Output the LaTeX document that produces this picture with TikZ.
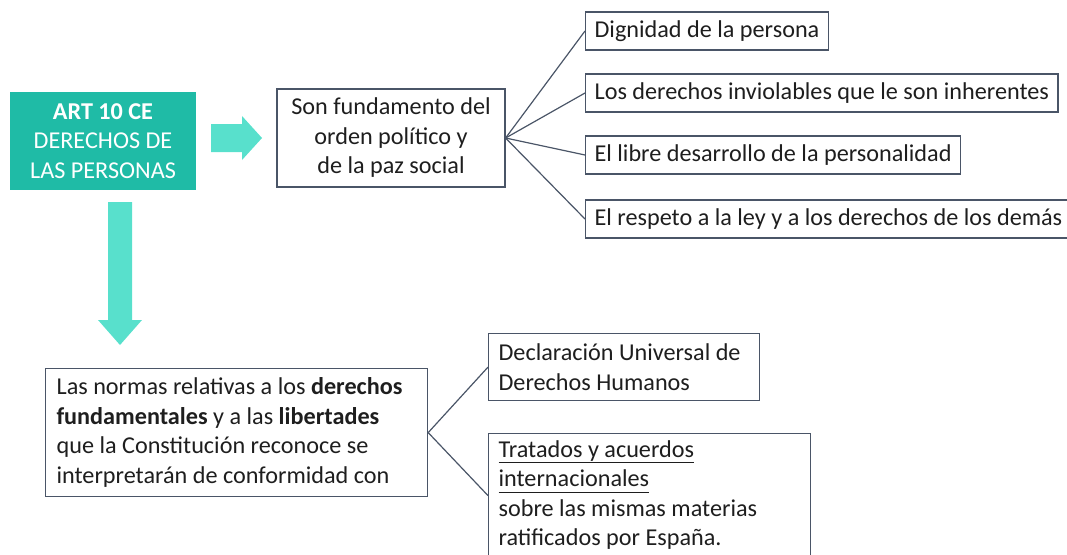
\documentclass[tikz,border=0pt]{standalone}
\usepackage{fontspec}
\setmainfont{Carlito}
\newcommand\myul[1]{\underline{\vphantom{y}#1}}
\definecolor{tealbox}{HTML}{1FBBA6}
\definecolor{aqua}{HTML}{58E0CC}
\definecolor{edge}{HTML}{4A5567}
\definecolor{ink}{HTML}{1E1E1E}
\begin{document}
\begin{tikzpicture}[x=1pt,y=-1pt,
  txtfont/.style={font=\fontsize{24.2}{29.5}\selectfont},
  box/.style={draw=edge, line width=1.2pt, text=ink, txtfont, inner xsep=9pt, inner ysep=0pt},
  link/.style={draw=edge, line width=1.2pt},
  bigarrow/.style={fill=aqua}]
\useasboundingbox (0,0) rectangle (1067,554);

% main green box
\node[fill=tealbox, text=white, txtfont, minimum width=186pt, minimum height=98pt,
      align=center, inner sep=0pt] (art) at (103,141)
  {\textbf{ART 10 CE}\\DERECHOS DE\\LAS PERSONAS};

% arrows
\fill[bigarrow] (211,124) -- (242,124) -- (242,116) -- (262,138) -- (242,160) -- (242,152) -- (211,152) -- cycle;
\fill[bigarrow] (108,202) -- (132,202) -- (132,320) -- (142,320) -- (120,345) -- (98,320) -- (108,320) -- cycle;

% top branch
\node[box, minimum width=228pt, minimum height=98pt, align=center] (fund) at (391,138)
  {Son fundamento del\\orden político y\\de la paz social};
\node[box, anchor=west, minimum height=38pt] (d1) at (585,31) {Dignidad de la persona};
\node[box, anchor=west, minimum height=38pt] (d2) at (585,93) {Los derechos inviolables que le son inherentes};
\node[box, anchor=west, minimum height=38pt] (d3) at (585,155) {El libre desarrollo de la personalidad};
\node[box, anchor=west, minimum height=38pt] (d4) at (585,219) {El respeto a la ley y a los derechos de los demás};
\foreach \n in {d1,d2,d3,d4} \draw[link] (fund.east) -- (\n.west);

% bottom branch
\node[box, anchor=north west, text width=360pt, inner xsep=11pt, minimum height=128pt, align=flush left] (conf) at (45,368)
  {Las normas relativas a los \textbf{derechos}\\\textbf{fundamentales} y a las \textbf{libertades}\\que la Constitución reconoce se\\interpretarán de conformidad con};
\node[box, anchor=north west, text width=251pt, inner xsep=10pt, minimum height=67pt, align=flush left] (dudh) at (488,333)
  {Declaración Universal de\\Derechos Humanos};
\node[box, anchor=north west, text width=302pt, inner xsep=10pt, inner ysep=6.5pt,
      text height=17pt, text depth=94pt, align=flush left] (trat) at (488,433)
  {\myul{Tratados y acuerdos}\\\myul{internacionales}\\sobre las mismas materias\\ratificados por España.};
\draw[link] (conf.east) -- (dudh.west);
\draw[link] (conf.east) -- (trat.west);
\end{tikzpicture}
\end{document}
